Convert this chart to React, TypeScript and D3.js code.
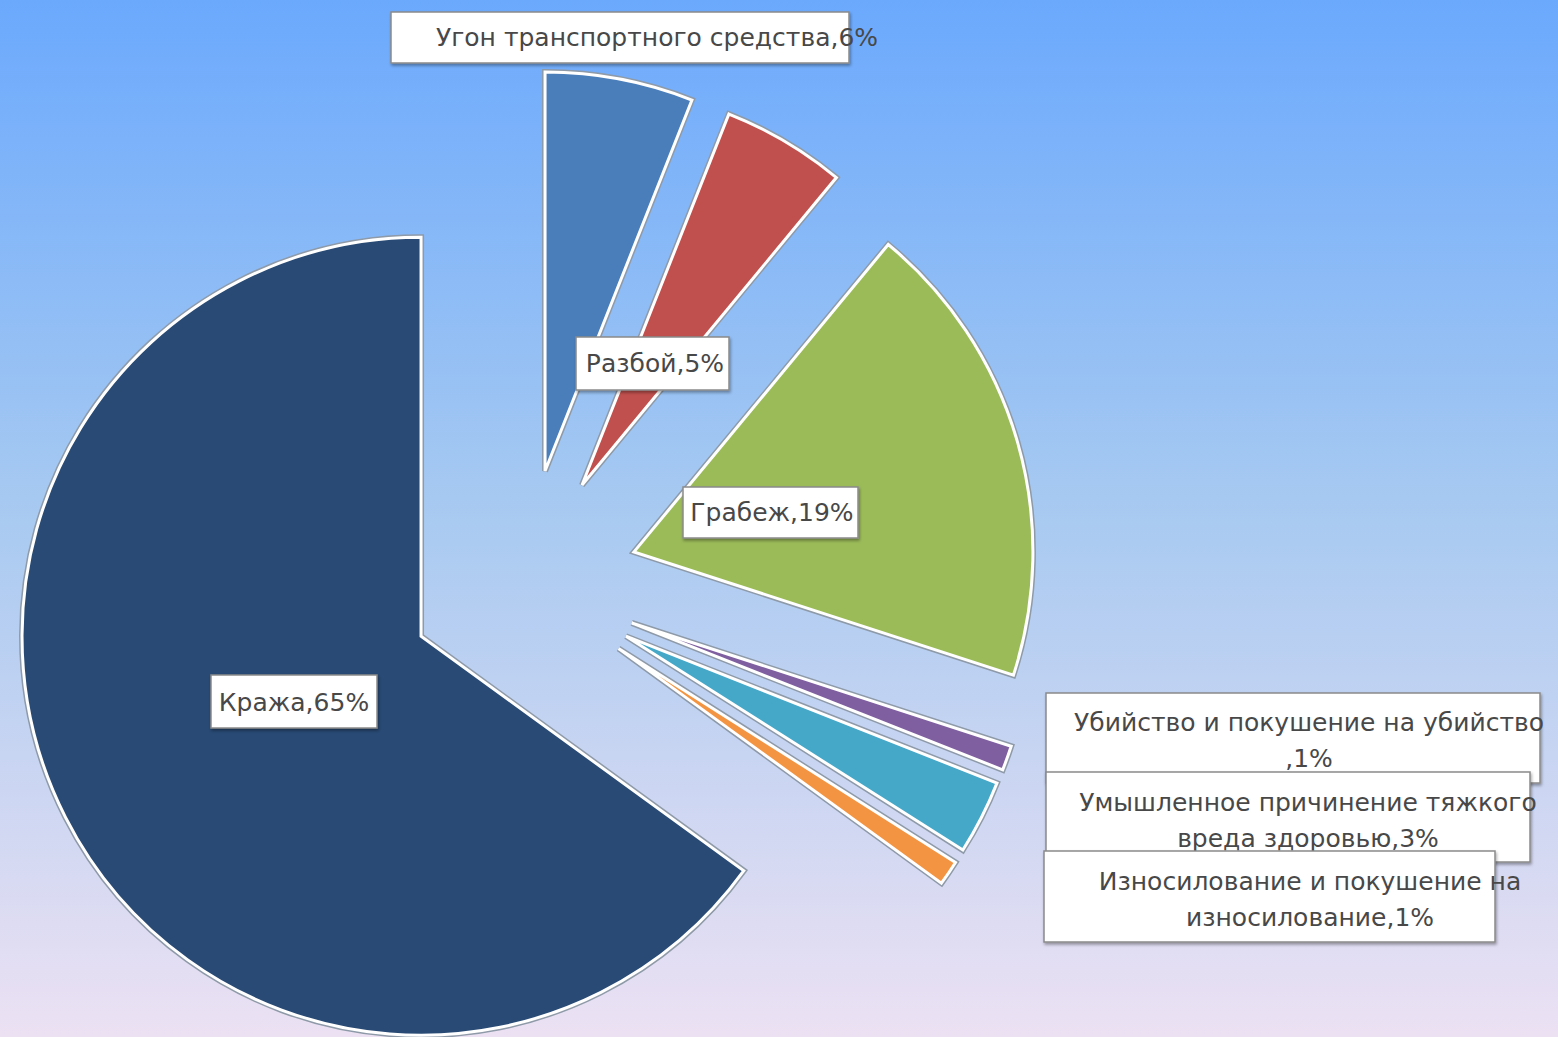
import React, { useMemo } from 'react';
import * as d3 from 'd3';

// Crime structure, percent of total
const categories = [
  'Угон транспортного средства',
  'Разбой',
  'Грабеж',
  'Убийство и покушение на убийство',
  'Умышленное причинение тяжкого вреда здоровью',
  'Износилование и покушение на износилование',
  'Кража',
];
const shares = [6, 5, 19, 1, 3, 1, 65];
const labelLines = [
  ['Угон транспортного средства,6%'],
  ['Разбой,5%'],
  ['Грабеж,19%'],
  ['Убийство и покушение на убийство', ',1%'],
  ['Умышленное причинение тяжкого', 'вреда здоровью,3%'],
  ['Износилование и покушение на', 'износилование,1%'],
  ['Кража,65%'],
];
const sliceColors = ['#4a7ebb', '#c0504d', '#9bbb59', '#7f5fa0', '#45a8c8', '#f39442', '#284a74'];

// label box placement (layout only)
const labelLayout = [
  { x: 391, y: 12, w: 458, h: 51, cx: 657, cy: 37 },
  { x: 576, y: 337, w: 153, h: 53, cx: 655, cy: 363 },
  { x: 683, y: 487, w: 175, h: 51, cx: 772, cy: 512 },
  { x: 1046, y: 693, w: 494, h: 90, cx: 1309, cy: 722 },
  { x: 1046, y: 772, w: 484, h: 90, cx: 1308, cy: 802 },
  { x: 1044, y: 851, w: 451, h: 91, cx: 1310, cy: 881 },
  { x: 211, y: 675, w: 166, h: 53, cx: 294, cy: 702 },
];

const W = 1558;
const H = 1037;
const CX = 523.5;
const CY = 584;
const R = 399;
const EXPLODE = 115;

export default function App() {
  const arcs = useMemo(() => {
    const pie = d3.pie<number>().sort(null).value(d => d).startAngle(0).endAngle(2 * Math.PI);
    return pie(shares);
  }, []);
  const arc = d3.arc<d3.PieArcDatum<number>>().innerRadius(0).outerRadius(R);

  return (
    <div style={{ position: 'absolute', left: 0, top: 0 }}>
      <svg width={W} height={H} viewBox={`0 0 ${W} ${H}`} style={{ display: 'block' }}>
        <defs>
          <linearGradient id="bg" x1="0" y1="0" x2="0" y2="1">
            <stop offset="0" stopColor="#6ba9fd" />
            <stop offset="0.48" stopColor="#a6c9f1" />
            <stop offset="1" stopColor="#ece1f3" />
          </linearGradient>
          <filter id="shadow" x="-10%" y="-10%" width="120%" height="130%">
            <feDropShadow dx="1" dy="2" stdDeviation="1.5" floodColor="#000" floodOpacity="0.35" />
          </filter>
        </defs>
        <rect x={0} y={0} width={W} height={H} fill="url(#bg)" />
        <g transform={`translate(${CX},${CY})`}>
          {arcs.map((a, i) => {
            const mid = (a.startAngle + a.endAngle) / 2;
            const dx = Math.sin(mid) * EXPLODE;
            const dy = -Math.cos(mid) * EXPLODE;
            const d = arc(a) || '';
            return (
              <g key={categories[i]} transform={`translate(${dx},${dy})`}>
                <path d={d} fill="none" stroke="#8e9aa8" strokeWidth={6} strokeLinejoin="miter" />
                <path d={d} fill={sliceColors[i]} stroke="#ffffff" strokeWidth={3} strokeLinejoin="miter" />
              </g>
            );
          })}
        </g>
        {labelLayout.map((l, i) => (
          <g key={'lab' + i} fontFamily="DejaVu Sans, sans-serif" fontSize={25} fill="#484848">
            <rect x={l.x} y={l.y} width={l.w} height={l.h} fill="#ffffff" stroke="#8a8a8a" strokeWidth={1.5} filter="url(#shadow)" />
            {labelLines[i].map((t, j) => (
              <text key={j} x={l.cx} y={l.cy + j * 36} textAnchor="middle" dominantBaseline="central">
                {t}
              </text>
            ))}
          </g>
        ))}
      </svg>
    </div>
  );
}
